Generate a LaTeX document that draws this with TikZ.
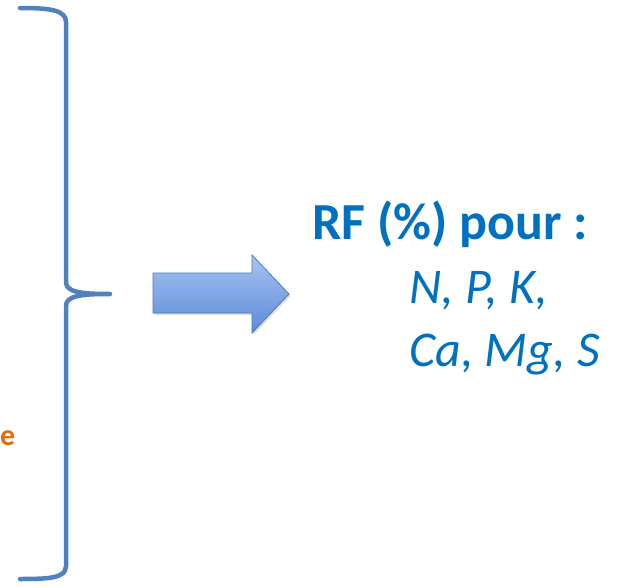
\documentclass[tikz,border=0pt]{standalone}
\usepackage{fontspec}
\setmainfont{Carlito}
\usetikzlibrary{shadows}
\definecolor{bracecol}{HTML}{4F81BD}
\definecolor{txtblue}{HTML}{0070C0}
\definecolor{orangec}{HTML}{E46C0A}
\definecolor{arrtop}{HTML}{A7C4F2}
\definecolor{arrbot}{HTML}{5B8AD6}
\definecolor{arredge}{HTML}{4A78C0}
\tikzset{
  brace/.style={draw=bracecol, line width=4.5pt, line cap=round, line join=round},
  fatarrow/.style={top color=arrtop, bottom color=arrbot, draw=arredge, line width=0.8pt, drop shadow={opacity=0.25, shadow xshift=1.5pt, shadow yshift=-2pt}},
  rftext/.style={anchor=base west, inner sep=0pt, text=txtblue, font=\fontsize{52}{60}\selectfont\bfseries},
  eltext/.style={anchor=base west, inner sep=0pt, text=txtblue, font=\fontsize{50}{60}\selectfont\itshape},
  cuttext/.style={anchor=base west, inner sep=0pt, text=orangec, font=\fontsize{30}{34}\selectfont\bfseries}
}
\begin{document}
\begin{tikzpicture}[x=1pt,y=-1pt]
\useasboundingbox[fill=white] (0,0) rectangle (626,586);
% brace
\draw[brace] (20,8) .. controls (50,8) and (66,10) .. (66,22)
  -- (66,282) .. controls (66,292) and (80,294) .. (110,294)
  .. controls (80,294) and (66,296) .. (66,306)
  -- (66,566) .. controls (66,578) and (50,579) .. (20,579);
% arrow
\shade[fatarrow] (153,273) -- (252,273) -- (252,255) -- (289,294) -- (252,333) -- (252,313) -- (153,313) -- cycle;
% texts
\node[rftext] (rf) at (312,239) {RF (\%) pour :};
\node[eltext] (l1) at (409,303) {N, P, K,};
\node[eltext] (l2) at (409,366) {Ca, Mg, S};
\node[cuttext] (e) at (0,445) {e};
\end{tikzpicture}
\end{document}
